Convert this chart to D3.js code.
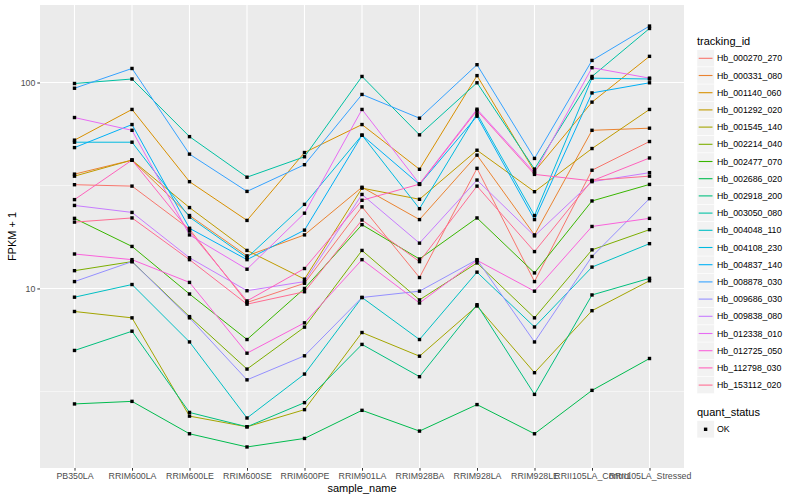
<!DOCTYPE html>
<html>
<head>
<meta charset="utf-8">
<script src="https://cdn.jsdelivr.net/npm/d3@7"></script>
<style>
  body { margin: 0; background: #fff; }
  svg text { font-family: "Liberation Sans", Arial, sans-serif; }
</style>
</head>
<body>
<div id="chart"></div>
<script>
const samples = ["PB350LA", "RRIM600LA", "RRIM600LE", "RRIM600SE", "RRIM600PE", "RRIM901LA",
    "RRIM928BA", "RRIM928LA", "RRIM928LE", "RRII105LA_Control", "RRII105LA_Stressed"];

const trackingIds = ["Hb_000270_270", "Hb_000331_080", "Hb_001140_060", "Hb_001292_020",
    "Hb_001545_140", "Hb_002214_040", "Hb_002477_070", "Hb_002686_020", "Hb_002918_200",
    "Hb_003050_080", "Hb_004048_110", "Hb_004108_230", "Hb_004837_140", "Hb_008878_030",
    "Hb_009686_030", "Hb_009838_080", "Hb_012338_010", "Hb_012725_050", "Hb_112798_030",
    "Hb_153112_020"];

// FPKM + 1, one row per tracking id, one value per sample
const fpkm = [
    [31.9, 31.4, 19.4, 8.55, 10.6, 24.9, 11.3, 38.3, 10.8, 37.5, 51.7],
    [35.9, 42, 22.6, 14.4, 18.2, 31.0, 21.6, 44.4, 18.2, 58.6, 60],
    [52.5, 74, 33, 21.4, 45.7, 62.5, 37.9, 108, 37, 80.3, 134],
    [35.1, 42, 24.7, 15.3, 11.1, 30.7, 27.1, 46.9, 29.5, 47.8, 74],
    [7.73, 7.2, 2.4, 2.13, 2.58, 6.11, 4.69, 8.22, 3.9, 7.8, 10.9],
    [12.2, 13.5, 7.3, 4.06, 6.49, 15.3, 8.8, 13.3, 7.2, 15.4, 19.3],
    [21.9, 16.0, 9.4, 5.65, 10.0, 20.4, 13.9, 22.0, 11.9, 26.6, 32.0],
    [2.75, 2.83, 1.97, 1.70, 1.87, 2.56, 2.03, 2.73, 1.97, 3.2, 4.57],
    [5.0, 6.2, 2.5, 2.13, 2.79, 5.35, 3.73, 8.34, 3.06, 9.3, 11.2],
    [98.9, 104, 54.6, 34.7, 43.6, 107, 55.7, 99.7, 38, 107, 183],
    [9.07, 10.45, 5.5, 2.35, 3.84, 9.04, 5.65, 12.0, 6.5, 12.7, 16.5],
    [51.3, 51.3, 22.2, 14.1, 25.6, 55.5, 24.4, 70.5, 22.6, 105, 104],
    [48.3, 62.5, 19.6, 13.8, 19.2, 55.5, 32.0, 68.6, 21.6, 89, 99.7],
    [93.8, 117, 44.9, 29.6, 39.9, 87.5, 67.1, 122, 42.8, 128, 188],
    [10.8, 13.5, 7.2, 3.6, 4.71, 9.04, 9.7, 13.8, 5.5, 14.3, 27.3],
    [25.3, 23.4, 14.1, 9.75, 10.8, 28.6, 16.6, 33.6, 18.0, 33.0, 36.5],
    [67.6, 58.6, 18.2, 12.4, 23.2, 74.0, 32.2, 74.2, 36.5, 118, 105],
    [14.7, 13.8, 10.7, 4.85, 6.81, 13.8, 8.5, 13.7, 9.7, 20.0, 21.9],
    [27, 42, 19.0, 8.7, 12.5, 26.8, 32.1, 73.1, 35.8, 33.3, 43],
    [21.0, 22.0, 13.8, 8.39, 9.64, 21.5, 13.5, 31.4, 15.1, 33.5, 35.1]
];

const quantStatus = ["OK"];
const yTicks = [10, 100];
const yMinor = [Math.sqrt(10), Math.sqrt(1000)];

// ggplot hue palette
const palette = ["#F8766D", "#EA8331", "#D89000", "#C09B00", "#A3A500", "#7CAE00", "#39B600",
    "#00BB4E", "#00BF7D", "#00C1A3", "#00BFC4", "#00BAE0", "#00B0F6", "#35A2FF", "#9590FF",
    "#C77CFF", "#E76BF3", "#FA62DB", "#FF62BC", "#FF6C91"];

const width = 800, height = 500;
const panel = {left: 40, right: 684, top: 5, bottom: 468};

const series = trackingIds.map((id, i) => ({
    id,
    values: samples.map((s, j) => ({sample: s, value: fpkm[i][j]}))
}));

const color = d3.scaleOrdinal().domain(trackingIds).range(palette);

const x = d3.scalePoint()
    .domain(samples)
    .range([panel.left, panel.right])
    .padding(0.6);

// log scale expanded by 5% each side like ggplot
const ext = d3.extent(fpkm.flat()).map(Math.log10);
const pad = (ext[1] - ext[0]) * 0.05;
const y = d3.scaleLog()
    .domain([Math.pow(10, ext[0] - pad), Math.pow(10, ext[1] + pad)])
    .range([panel.bottom, panel.top]);

const svg = d3.select("#chart").append("svg")
    .attr("width", width)
    .attr("height", height)
    .attr("viewBox", [0, 0, width, height]);

svg.append("rect").attr("width", width).attr("height", height).attr("fill", "#fff");

svg.append("rect")
    .attr("x", panel.left)
    .attr("y", panel.top)
    .attr("width", panel.right - panel.left)
    .attr("height", panel.bottom - panel.top)
    .attr("fill", "#EBEBEB");

const grid = svg.append("g").attr("stroke", "#fff");

grid.selectAll(".minor")
    .data(yMinor)
    .join("line")
    .attr("x1", panel.left).attr("x2", panel.right)
    .attr("y1", d => y(d)).attr("y2", d => y(d))
    .attr("stroke-width", 0.55);

grid.selectAll(".major-y")
    .data(yTicks)
    .join("line")
    .attr("class", "major-y")
    .attr("x1", panel.left).attr("x2", panel.right)
    .attr("y1", d => y(d)).attr("y2", d => y(d))
    .attr("stroke-width", 1.1);

grid.selectAll(".major-x")
    .data(samples)
    .join("line")
    .attr("class", "major-x")
    .attr("x1", d => x(d)).attr("x2", d => x(d))
    .attr("y1", panel.top).attr("y2", panel.bottom)
    .attr("stroke-width", 1.1);

const line = d3.line()
    .x(d => x(d.sample))
    .y(d => y(d.value));

svg.append("g")
    .attr("fill", "none")
    .attr("stroke-width", 1)
    .selectAll("path")
    .data(series)
    .join("path")
    .attr("stroke", d => color(d.id))
    .attr("d", d => line(d.values));

const ps = 3.4;
svg.append("g")
    .attr("fill", "#000")
    .selectAll("rect")
    .data(series.flatMap(s => s.values))
    .join("rect")
    .attr("x", d => x(d.sample) - ps / 2)
    .attr("y", d => y(d.value) - ps / 2)
    .attr("width", ps)
    .attr("height", ps);

// axes
svg.append("g")
    .attr("transform", `translate(${panel.left},0)`)
    .call(d3.axisLeft(y).tickValues(yTicks).tickFormat(d3.format("d")).tickSize(2.7).tickPadding(2))
    .call(g => g.select(".domain").remove())
    .call(g => g.selectAll(".tick line").attr("stroke", "#333"))
    .call(g => g.selectAll(".tick text").attr("fill", "#4D4D4D").attr("font-size", 8.8)
        .attr("font-family", "Liberation Sans, Arial, sans-serif"));

svg.append("g")
    .attr("transform", `translate(0,${panel.bottom})`)
    .call(d3.axisBottom(x).tickSize(2.7).tickPadding(2))
    .call(g => g.select(".domain").remove())
    .call(g => g.selectAll(".tick line").attr("stroke", "#333"))
    .call(g => g.selectAll(".tick text").attr("fill", "#4D4D4D").attr("font-size", 8.8)
        .attr("font-family", "Liberation Sans, Arial, sans-serif"));

svg.append("text")
    .attr("x", (panel.left + panel.right) / 2)
    .attr("y", 492)
    .attr("text-anchor", "middle")
    .attr("font-size", 11)
    .text("sample_name");

svg.append("text")
    .attr("transform", `translate(16,${(panel.top + panel.bottom) / 2}) rotate(-90)`)
    .attr("text-anchor", "middle")
    .attr("font-size", 11)
    .text("FPKM + 1");

// legends
const keySize = 17.2;
const legendX = 697;
const leg = svg.append("g");

leg.append("text")
    .attr("x", legendX)
    .attr("y", 44.5)
    .attr("font-size", 11)
    .text("tracking_id");

const item = leg.selectAll(".item")
    .data(trackingIds)
    .join("g")
    .attr("class", "item")
    .attr("transform", (d, i) => `translate(${legendX},${49.7 + i * keySize})`);

item.append("rect")
    .attr("width", keySize)
    .attr("height", keySize)
    .attr("fill", "#F2F2F2")
    .attr("stroke", "#fff")
    .attr("stroke-width", 0.5);

item.append("line")
    .attr("x1", 1.7).attr("x2", keySize - 1.7)
    .attr("y1", keySize / 2).attr("y2", keySize / 2)
    .attr("stroke", d => color(d))
    .attr("stroke-width", 1.1);

item.append("text")
    .attr("x", keySize + 2.8)
    .attr("y", keySize / 2)
    .attr("dy", "0.35em")
    .attr("font-size", 8.8)
    .text(d => d);

leg.append("text")
    .attr("x", legendX)
    .attr("y", 416)
    .attr("font-size", 11)
    .text("quant_status");

const qItem = leg.selectAll(".qitem")
    .data(quantStatus)
    .join("g")
    .attr("class", "qitem")
    .attr("transform", (d, i) => `translate(${legendX},${420.7 + i * keySize})`);

qItem.append("rect")
    .attr("width", keySize)
    .attr("height", keySize)
    .attr("fill", "#F2F2F2")
    .attr("stroke", "#fff")
    .attr("stroke-width", 0.5);

qItem.append("rect")
    .attr("x", keySize / 2 - ps / 2)
    .attr("y", keySize / 2 - ps / 2)
    .attr("width", ps)
    .attr("height", ps)
    .attr("fill", "#000");

qItem.append("text")
    .attr("x", keySize + 2.8)
    .attr("y", keySize / 2)
    .attr("dy", "0.35em")
    .attr("font-size", 8.8)
    .text(d => d);
</script>
</body>
</html>
